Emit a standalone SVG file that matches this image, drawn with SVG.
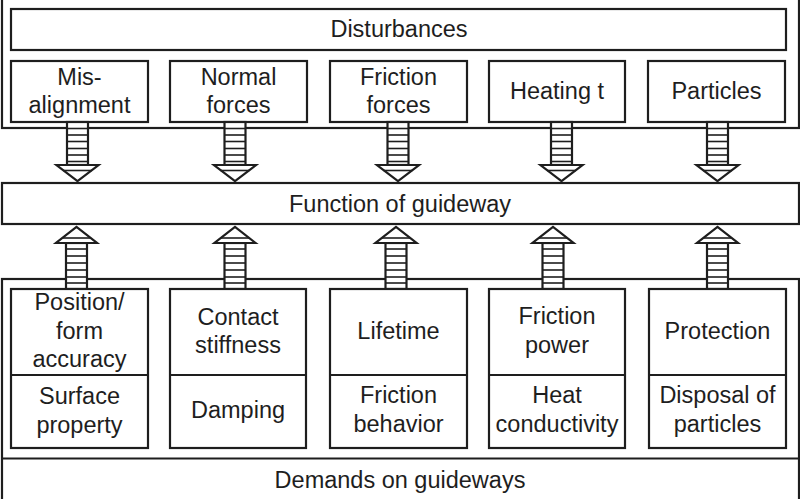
<svg xmlns="http://www.w3.org/2000/svg" xmlns:xlink="http://www.w3.org/1999/xlink" width="800" height="499" viewBox="0 0 800 499">
<style>
.b{fill:#fff;stroke:#1e1e1e;stroke-width:2.2}
.o{fill:none;stroke:#1e1e1e;stroke-width:2.2}
.l{stroke:#1e1e1e;stroke-width:2}
.s{stroke:#1e1e1e;stroke-width:1.6}
text{font-family:"Liberation Sans",Arial,sans-serif;font-size:23.5px;fill:#1e1e1e;text-anchor:middle}
</style>
<defs>
<g id="down">
<rect x="-10.5" y="0" width="21" height="43" class="b" stroke-width="2"/>
<line x1="-10.5" y1="6.5" x2="10.5" y2="6.5" class="s"/>
<line x1="-10.5" y1="13" x2="10.5" y2="13" class="s"/>
<line x1="-10.5" y1="19.5" x2="10.5" y2="19.5" class="s"/>
<line x1="-10.5" y1="26.5" x2="10.5" y2="26.5" class="s"/>
<line x1="-10.5" y1="33" x2="10.5" y2="33" class="s"/>
<line x1="-10.5" y1="39.5" x2="10.5" y2="39.5" class="s"/>
<polygon points="-21,43 21,43 0,59" class="b" stroke-width="2"/>
<line x1="-14.4" y1="48.5" x2="14.4" y2="48.5" class="s"/>
</g>
<g id="up">
<rect x="-10.5" y="16" width="21" height="46" class="b" stroke-width="2"/>
<line x1="-10.5" y1="22" x2="10.5" y2="22" class="s"/>
<line x1="-10.5" y1="29" x2="10.5" y2="29" class="s"/>
<line x1="-10.5" y1="36" x2="10.5" y2="36" class="s"/>
<line x1="-10.5" y1="43" x2="10.5" y2="43" class="s"/>
<line x1="-10.5" y1="50" x2="10.5" y2="50" class="s"/>
<line x1="-10.5" y1="56" x2="10.5" y2="56" class="s"/>
<polygon points="-20.5,16 20.5,16 0,0" class="b" stroke-width="2"/>
<line x1="-14" y1="11" x2="14" y2="11" class="s"/>
</g>
</defs>
<rect width="800" height="499" fill="#fff"/>

<g id="disturbances-frame">
<rect x="2" y="-3" width="797" height="131" class="o"/>
</g>
<g id="demands-frame">
<rect x="2" y="279" width="797" height="230" class="o"/>
<line x1="2" y1="458.5" x2="799" y2="458.5" class="l"/>
<text x="400" y="488">Demands on guideways</text>
</g>

<g id="disturbances">
<rect x="11" y="9" width="775" height="41" class="b"/>
<text x="399" y="37">Disturbances</text>
</g>
<g id="misalignment">
<rect x="11" y="61" width="137" height="61" class="b"/>
<text x="79.5" y="85">Mis-</text>
<text x="79.5" y="113">alignment</text>
</g>
<g id="normal-forces">
<rect x="170" y="61" width="137" height="61" class="b"/>
<text x="238.5" y="85">Normal</text>
<text x="238.5" y="113">forces</text>
</g>
<g id="friction-forces">
<rect x="330" y="61" width="137" height="61" class="b"/>
<text x="398.5" y="85">Friction</text>
<text x="398.5" y="113">forces</text>
</g>
<g id="heating">
<rect x="489" y="61" width="136" height="61" class="b"/>
<text x="557" y="99">Heating t</text>
</g>
<g id="particles">
<rect x="648" y="61" width="137" height="61" class="b"/>
<text x="716.5" y="99">Particles</text>
</g>

<g id="function">
<rect x="2" y="183" width="797" height="41" class="b"/>
<text x="400" y="212">Function of guideway</text>
</g>

<g id="connectors">
<use xlink:href="#down" x="77.5" y="122"/>
<use xlink:href="#down" x="235" y="122"/>
<use xlink:href="#down" x="398" y="122"/>
<use xlink:href="#down" x="561.5" y="122"/>
<use xlink:href="#down" x="717.5" y="122"/>
<use xlink:href="#up" x="76.5" y="227"/>
<use xlink:href="#up" x="235" y="227"/>
<use xlink:href="#up" x="396" y="227"/>
<use xlink:href="#up" x="553" y="227"/>
<use xlink:href="#up" x="717.5" y="227"/>
</g>

<g id="position-surface">
<rect x="11" y="289" width="137" height="159" class="b"/>
<line x1="11" y1="375" x2="148" y2="375" class="l"/>
<text x="79.5" y="310">Position/</text>
<text x="79.5" y="339">form</text>
<text x="79.5" y="367">accuracy</text>
<text x="79.5" y="404">Surface</text>
<text x="79.5" y="433">property</text>
</g>
<g id="contact-damping">
<rect x="170" y="289" width="136" height="159" class="b"/>
<line x1="170" y1="375" x2="306" y2="375" class="l"/>
<text x="238" y="325">Contact</text>
<text x="238" y="353">stiffness</text>
<text x="238" y="418">Damping</text>
</g>
<g id="lifetime-friction">
<rect x="330" y="289" width="137" height="159" class="b"/>
<line x1="330" y1="375" x2="467" y2="375" class="l"/>
<text x="398.5" y="339">Lifetime</text>
<text x="398.5" y="403">Friction</text>
<text x="398.5" y="432">behavior</text>
</g>
<g id="power-heat">
<rect x="489" y="289" width="136" height="159" class="b"/>
<line x1="489" y1="375" x2="625" y2="375" class="l"/>
<text x="557" y="324">Friction</text>
<text x="557" y="353">power</text>
<text x="557" y="403">Heat</text>
<text x="557" y="432">conductivity</text>
</g>
<g id="protection-disposal">
<rect x="649" y="289" width="137" height="159" class="b"/>
<line x1="649" y1="375" x2="786" y2="375" class="l"/>
<text x="717.5" y="339">Protection</text>
<text x="717.5" y="403">Disposal of</text>
<text x="717.5" y="432">particles</text>
</g>
</svg>
